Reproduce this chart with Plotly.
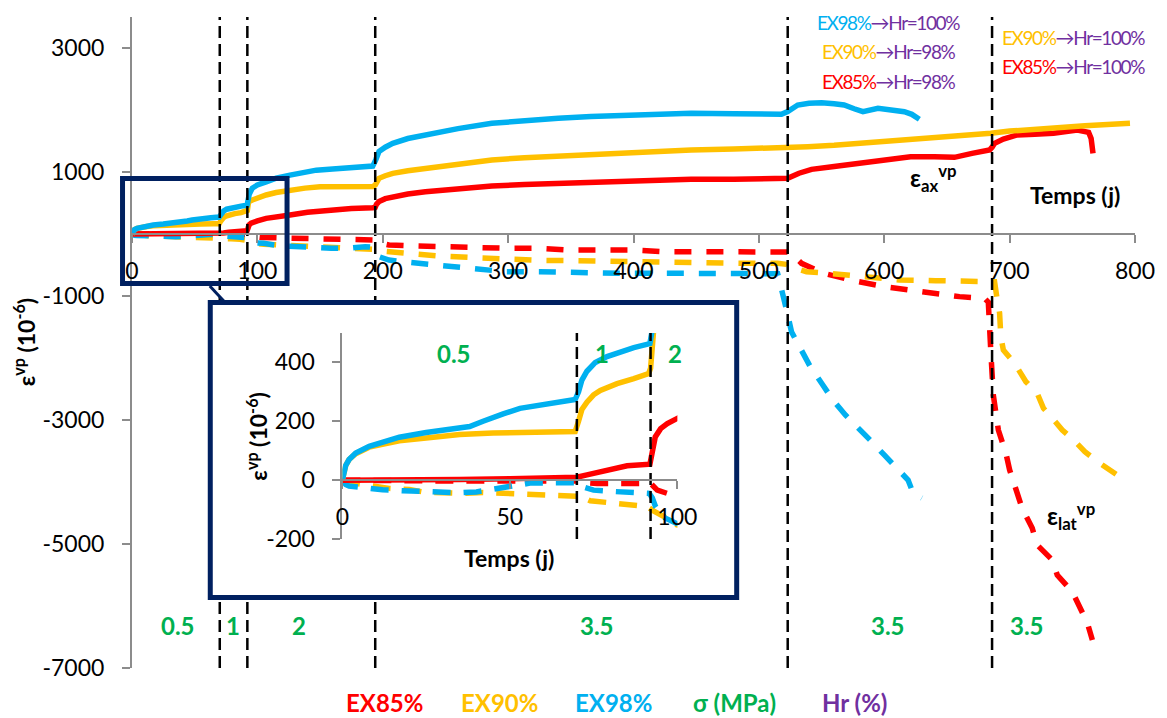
import plotly.graph_objects as go

# ------------------------------------------------------------------ data
# loading-stage boundaries (days)
stage_days = [70, 92, 194, 523, 686]
inset_stage_days = [70, 92]

# axial viscoplastic strain (1e-6), solid lines
t_ax_ex85 = [0, 10, 20, 35, 50, 60, 70, 73, 77, 81, 85, 91.8, 92.5, 93.4, 95, 97, 100, 107, 116, 126,
             140, 157, 175, 192, 194, 195, 197, 202, 208, 220, 234, 260, 287, 313, 340, 366, 393, 420,
             446, 480, 515, 523, 532, 542, 560, 582, 600, 621, 640, 656, 670, 684, 686, 688, 695, 706,
             720, 735, 754, 760, 763, 765, 766, 766.5]
ax_ex85 = [0, 0, 1, 2, 5, 8, 10, 18, 28, 40, 49, 54, 90, 147, 175, 192, 210, 252, 285, 306,
           350, 387, 410, 425, 432, 480, 522, 570, 602, 645, 683, 735, 774, 797, 817, 838, 855, 870,
           882, 885, 882, 898, 980, 1043, 1090, 1140, 1190, 1247, 1245, 1237, 1300, 1355, 1400, 1462,
           1530, 1597, 1610, 1624, 1677, 1665, 1640, 1540, 1409, 1301]

t_ax_ex90 = [0, 0.5, 1, 2, 4, 8, 12, 17, 25, 35, 45, 55, 65, 69.5, 70.5, 71.5, 73, 75, 77, 82, 87,
             91.4, 92, 92.5, 93, 96, 100, 107, 115, 126, 138, 150, 170, 192, 194, 197, 202, 208, 220,
             234, 260, 287, 313, 340, 366, 393, 420, 446, 480, 523, 539, 560, 582, 620, 660, 685, 700,
             727, 760, 796]
ax_ex90 = [0, 30, 50, 70, 90, 112, 122, 134, 143, 155, 160, 163, 165, 165, 200, 240, 265, 290, 305,
           328, 345, 362, 380, 450, 520, 548, 580, 629, 670, 710, 740, 763, 768, 765, 790, 898, 940,
           978, 1020, 1059, 1130, 1194, 1230, 1258, 1280, 1301, 1330, 1355, 1370, 1385, 1409, 1430,
           1462, 1520, 1580, 1624, 1660, 1704, 1745, 1785]

t_ax_ex98 = [0, 0.5, 1, 2, 4, 8, 12, 17, 25, 35, 38, 42, 44, 48, 53, 58, 63, 69.5, 70.5, 71.5, 73,
             75.5, 79, 82.5, 87, 91.8, 92.5, 93.5, 96, 100, 107, 115, 126, 137, 147, 160, 173, 185,
             192, 194.5, 197, 202, 208, 220, 234, 260, 287, 313, 340, 366, 393, 420, 446, 480, 518,
             523, 527, 531, 540, 550, 560, 568, 576, 583, 595, 605, 616, 622, 628]
ax_ex98 = [0, 30, 50, 70, 92, 115, 130, 146, 162, 180, 182, 200, 210, 225, 244, 253, 261, 274, 300,
           340, 370, 400, 420, 434, 450, 464, 520, 640, 740, 790, 840, 900, 950, 995, 1030, 1050, 1060,
           1080, 1095, 1200, 1330, 1400, 1462, 1540, 1597, 1700, 1785, 1830, 1866, 1895, 1919, 1935,
           1946, 1940, 1930, 1975, 2040, 2080, 2110, 2118, 2100, 2080, 2020, 1973, 2027, 2000, 1973,
           1930, 1850]

# lateral viscoplastic strain (1e-6), dashed lines
t_lat_ex85 = [0, 10, 30, 50, 70, 72, 76, 85, 92, 94, 97, 103, 120, 135, 150, 170, 187, 192, 196,
              205, 218, 245, 272, 300, 325, 348, 374, 400, 425, 470, 515, 523, 527, 534, 552, 576,
              602, 629, 660, 680, 683, 685, 687, 691, 697, 700, 706, 710, 718, 722, 734, 738, 750,
              756, 762, 766]
lat_ex85 = [0, -2, -3, -3, -3, -8, -11, -11, -11, -34, -45, -55, -65, -70, -80, -86, -90, -95, -140,
            -177, -188, -204, -231, -231, -231, -258, -258, -258, -285, -285, -285, -290, -340, -473,
            -635, -755, -855, -930, -1010, -1037, -1100, -1900, -2600, -3161, -3532, -3806, -4156,
            -4425, -4742, -5016, -5258, -5500, -5769, -6038, -6274, -6548]

t_lat_ex90 = [0, 1, 4, 8, 14, 20, 24, 30, 36, 42, 50, 60, 69, 71, 74, 79, 86, 91, 93, 96, 98, 105,
              120, 135, 150, 170, 186, 192, 196, 205, 220, 244, 273, 303, 328, 355, 390, 437, 461,
              492, 515, 522, 530, 538, 561, 588, 612, 641, 667, 688, 690, 692, 693, 695, 704, 713,
              722, 727, 733, 742, 751, 760, 772, 784, 794]
lat_ex90 = [0, -5, -11, -18, -28, -32, -40, -43, -45, -42, -45, -48, -50, -55, -70, -77, -85, -90,
            -105, -124, -147, -165, -177, -185, -204, -220, -231, -245, -270, -290, -312, -355, -382,
            -408, -425, -430, -446, -462, -462, -473, -473, -490, -560, -608, -645, -699, -742, -753,
            -769, -769, -1048, -1274, -1656, -1871, -2086, -2382, -2570, -2812, -2946, -3161, -3323,
            -3511, -3699, -3860, -4000]

t_lat_ex98 = [0, 0.5, 1, 2, 4, 8, 12, 18, 25, 30, 35, 40, 44, 47, 52, 56, 62, 70, 71, 73, 75, 80,
              85, 91.6, 92.5, 93.5, 95.5, 99.7, 105, 118, 131, 145, 159, 172, 186, 192, 194, 197, 205,
              215, 243, 270, 298, 325, 352, 390, 430, 455, 490, 510, 515, 517, 519, 523, 526, 535,
              541, 551, 559, 569, 579, 590, 600, 610, 619, 623, 630]
lat_ex98 = [0, -8, -15, -20, -23, -28, -33, -36, -40, -42, -43, -40, -32, -25, -15, -10, -9, -9, -20,
            -28, -34, -38, -40, -45, -60, -90, -124, -147, -150, -190, -204, -225, -231, -231, -204,
            -215, -260, -366, -420, -446, -500, -554, -608, -608, -624, -634, -634, -634, -634, -630,
            -640, -800, -952, -1306, -1576, -1924, -2140, -2435, -2677, -2919, -3113, -3350, -3564,
            -3774, -3968, -4177, -4258]

# axes
x_ticks = [0, 100, 200, 300, 400, 500, 600, 700, 800]
y_ticks = [-7000, -5000, -3000, -1000, 1000, 3000]
inset_x_ticks = [0, 50, 100]
inset_y_ticks = [-200, 0, 200, 400]
X_RANGE = [0, 800]
Y_RANGE = [-7000, 3500]
IX_RANGE = [0, 100]
IY_RANGE = [-200, 500]

# labels
sigma_labels = ["0.5", "1", "2", "3.5", "3.5", "3.5"]
inset_sigma_labels = ["0.5", "1", "2"]
legend_labels = ["EX85%", "EX90%", "EX98%", "σ (MPa)", "Hr (%)"]

# ------------------------------------------------------------------ style
RED, ORANGE, BLUE = "#FF0000", "#FFC000", "#00B0F0"
GREEN, PURPLE, NAVY = "#00B050", "#7030A0", "#002060"
AXIS_GREY = "#8C8C8C"
FONT = "Lato"
W, H = 1167, 718
PX_L, PX_R, PX_T, PX_B = 132, 1138, 17, 668


def px_x(px):
    return (px - PX_L) / (PX_R - PX_L)


def px_y(py):
    return (PX_B - py) / (PX_B - PX_T)


def tick_text(vals):
    return [str(v) for v in vals]


series = [
    (t_lat_ex85, lat_ex85, RED, "dash"),
    (t_lat_ex90, lat_ex90, ORANGE, "dash"),
    (t_lat_ex98, lat_ex98, BLUE, "dash"),
    (t_ax_ex85, ax_ex85, RED, "solid"),
    (t_ax_ex90, ax_ex90, ORANGE, "solid"),
    (t_ax_ex98, ax_ex98, BLUE, "solid"),
]

fig = go.Figure()

# main chart
for t, v, col, kind in series:
    fig.add_trace(go.Scatter(
        x=t, y=v, mode="lines", xaxis="x", yaxis="y", showlegend=False, hoverinfo="skip",
        line=dict(color=col, width=5.5, dash="17px,15px" if kind == "dash" else "solid")))
for d in stage_days:
    fig.add_trace(go.Scatter(
        x=[d, d], y=Y_RANGE, mode="lines", xaxis="x", yaxis="y", showlegend=False,
        hoverinfo="skip", line=dict(color="black", width=2.5, dash="12px,6px")))

# white cover of the inset frame
fig.add_trace(go.Scatter(x=[None], y=[None], xaxis="x2", yaxis="y2", showlegend=False,
                         hoverinfo="skip"))

# inset
for t, v, col, kind in series:
    fig.add_trace(go.Scatter(
        x=t, y=v, mode="lines", xaxis="x3", yaxis="y3", showlegend=False, hoverinfo="skip",
        line=dict(color=col, width=5.5, dash="18px,13px" if kind == "dash" else "solid")))
for d in inset_stage_days:
    fig.add_trace(go.Scatter(
        x=[d, d], y=IY_RANGE, mode="lines", xaxis="x3", yaxis="y3", showlegend=False,
        hoverinfo="skip", line=dict(color="black", width=2.5, dash="12px,6px")))

# ------------------------------------------------------------------ layout
main_x_pos = (0 - Y_RANGE[0]) / (Y_RANGE[1] - Y_RANGE[0])
iy_dom = [px_y(539), px_y(333)]
ix_dom = [px_x(343), px_x(679)]
inset_x_pos = iy_dom[0] + (0 - IY_RANGE[0]) / (IY_RANGE[1] - IY_RANGE[0]) * (iy_dom[1] - iy_dom[0])

axis_common = dict(showline=True, linecolor=AXIS_GREY, linewidth=2, ticks="outside", ticklen=8,
                   tickwidth=2, tickcolor=AXIS_GREY, showgrid=False, zeroline=False,
                   tickfont=dict(family=FONT, size=23, color="black"), fixedrange=True)

fig.update_layout(
    width=W, height=H,
    margin=dict(l=PX_L, r=W - PX_R, t=PX_T, b=H - PX_B, pad=0),
    paper_bgcolor="white", plot_bgcolor="white",
    font=dict(family=FONT, color="black"),
    showlegend=False,
    xaxis=dict(domain=[0, 1], range=X_RANGE, anchor="free", position=main_x_pos,
               tickvals=x_ticks, ticktext=tick_text(x_ticks), ticklabelstandoff=8, **axis_common),
    yaxis=dict(domain=[0, 1], range=Y_RANGE, anchor="x",
               tickvals=y_ticks, ticktext=tick_text(y_ticks), ticklabelstandoff=13, **axis_common),
    xaxis2=dict(domain=[px_x(208), px_x(741)], range=[0, 1], anchor="y2", visible=False,
                fixedrange=True),
    yaxis2=dict(domain=[px_y(600), px_y(300)], range=[0, 1], anchor="x2", visible=False,
                fixedrange=True),
    xaxis3=dict(domain=ix_dom, range=IX_RANGE, anchor="free", position=inset_x_pos,
                tickvals=inset_x_ticks, ticktext=tick_text(inset_x_ticks), ticklabelstandoff=8,
                **axis_common),
    yaxis3=dict(domain=iy_dom, range=IY_RANGE, anchor="x3",
                tickvals=inset_y_ticks, ticktext=tick_text(inset_y_ticks), ticklabelstandoff=13,
                **axis_common),
)

# frames of the zoom region and of the inset, plus connector
fig.add_shape(type="rect", xref="paper", yref="paper", x0=px_x(122.5), x1=px_x(287.5),
              y0=px_y(283.5), y1=px_y(178.5), line=dict(color=NAVY, width=5),
              fillcolor="rgba(0,0,0,0)", layer="above")
fig.add_shape(type="rect", xref="paper", yref="paper", x0=px_x(210.5), x1=px_x(738.5),
              y0=px_y(597.5), y1=px_y(302.5), line=dict(color=NAVY, width=5),
              fillcolor="rgba(0,0,0,0)", layer="above")
fig.add_shape(type="line", xref="paper", yref="paper", x0=px_x(210), y0=px_y(286),
              x1=px_x(225), y1=px_y(302), line=dict(color=NAVY, width=3), layer="above")


def note(text, px, py, size, color="black", bold=False, angle=0, family=FONT):
    fig.add_annotation(
        text=f"<b>{text}</b>" if bold else text, xref="paper", yref="paper",
        x=px_x(px), y=px_y(py), xanchor="center", yanchor="middle", showarrow=False,
        textangle=angle, font=dict(family=family, size=size, color=color))


# stress levels
for lab, px in zip(sigma_labels, [178, 233, 300, 598, 890, 1030]):
    note(lab, px, 625, 24, GREEN, bold=True)
for lab, px in zip(inset_sigma_labels, [455, 603, 677]):
    note(lab, px, 353, 24, GREEN, bold=True)


# humidity changes
def hr_text(ex, col, hr):
    return (f"<span style='color:{col};letter-spacing:-1.4px'>{ex}</span>"
            f"<span style='color:{PURPLE};letter-spacing:-1.4px'>→Hr={hr}</span>")


note(hr_text("EX98%", BLUE, "100%"), 891, 23, 19)
note(hr_text("EX90%", ORANGE, "98%"), 891, 51, 19)
note(hr_text("EX85%", RED, "98%"), 891, 81, 19)
note(hr_text("EX90%", ORANGE, "100%"), 1076, 38, 19)
note(hr_text("EX85%", RED, "100%"), 1076, 67, 19)

# curve labels and axis titles
note("ε<sub>ax</sub><sup>vp</sup>", 936, 178, 24, bold=True)
note("ε<sub>lat</sub><sup>vp</sup>", 1074, 516, 24, bold=True)
note("Temps (j)", 1078, 195, 23, bold=True)
note("Temps (j)", 510, 558, 23, bold=True)
note("ε<sup>vp</sup> (10<sup>-6</sup>)", 24, 342, 23, bold=True, angle=-90)
note("ε<sup>vp</sup> (10<sup>-6</sup>)", 257, 437, 23, bold=True, angle=-90)

# legend
for lab, col, px in zip(legend_labels, [RED, ORANGE, BLUE, GREEN, PURPLE],
                        [385, 501, 615, 736, 857]):
    note(lab, px, 702, 24, col, bold=True)

fig.write_html("out.html", config={"displayModeBar": False},
               post_script="document.body.style.margin='0';document.body.style.padding='0';")
